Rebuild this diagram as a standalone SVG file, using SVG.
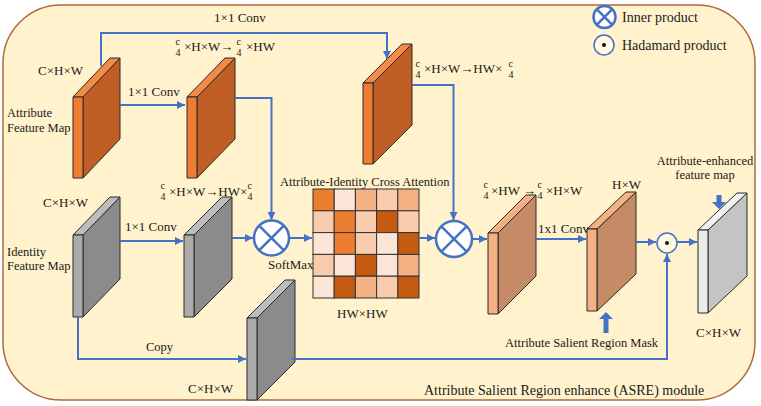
<svg xmlns="http://www.w3.org/2000/svg" width="761" height="406" viewBox="0 0 761 406">
<style>
text{font-family:"Liberation Serif","Times New Roman",serif;font-size:13px;fill:#1a1a1a}
.big{font-size:14px}
.sm{font-size:12.5px}
.fr{font-size:10px}
.ed{stroke:#2b2b2b;stroke-width:1;stroke-linejoin:round}
.af{fill:#EE7D32}.at{fill:#F28B45}.as{fill:#BF5F26}
.gf{fill:#ABABAB}.gt{fill:#BDBDBD}.gs{fill:#8C8B8B}
.pf{fill:#F4B183}.pt{fill:#F4B183}.ps{fill:#C48B66}
.wf{fill:#EBEBEB}.wt{fill:#F2F2F2}.ws{fill:#C4C4C4}
.ln{fill:none;stroke:#4472C4;stroke-width:2}
.ip{fill:#fff;stroke:#4472C4;stroke-width:2.5}
.hp{fill:#FFF7E0;stroke:#4472C4;stroke-width:1.5}
.c1{fill:#ED7D31}.c2{fill:#C55A11}.c3{fill:#F4B183}.c4{fill:#F8CBAD}.c5{fill:#FBE5D6}
.cell{stroke:#333;stroke-width:1}
</style>
<defs>
<marker id="ah" viewBox="0 0 10 10" refX="10" refY="5" markerWidth="8" markerHeight="8" markerUnits="userSpaceOnUse" orient="auto">
<path d="M0,0 L10,5 L0,10 z" fill="#4472C4"/>
</marker>
</defs>

<rect id="panel" x="3" y="5" width="752" height="395" rx="58" ry="58" fill="#FFF2CC" stroke="#B06A3C" stroke-width="1.5"/>

<g id="attr1">
<polygon class="as ed" points="83,97 120,58 120,139 83,178"/>
<polygon class="at ed" points="73,97 110,58 120,58 83,97"/>
<rect class="af ed" x="73" y="97" width="10" height="81"/>
</g>
<g id="attr2">
<polygon class="as ed" points="197,97 235,58 235,139 197,178"/>
<polygon class="at ed" points="187,97 225,58 235,58 197,97"/>
<rect class="af ed" x="187" y="97" width="10" height="81"/>
</g>
<g id="attr3">
<polygon class="as ed" points="373,83 412,44 412,125 373,164"/>
<polygon class="at ed" points="363,83 402,44 412,44 373,83"/>
<rect class="af ed" x="363" y="83" width="10" height="81"/>
</g>
<g id="id1">
<polygon class="gs ed" points="83,235 120,197 120,279 83,317"/>
<polygon class="gt ed" points="73,235 110,197 120,197 83,235"/>
<rect class="gf ed" x="73" y="235" width="10" height="82"/>
</g>
<g id="id2">
<polygon class="gs ed" points="194,235 232,197 232,279 194,317"/>
<polygon class="gt ed" points="184,235 222,197 232,197 194,235"/>
<rect class="gf ed" x="184" y="235" width="10" height="82"/>
</g>
<g id="copy">
<polygon class="gs ed" points="257,318 295,280 295,362 257,400"/>
<polygon class="gt ed" points="247,318 285,280 295,280 257,318"/>
<rect class="gf ed" x="247" y="318" width="10" height="82"/>
</g>
<g id="peach1">
<polygon class="ps ed" points="498,233 536,195 536,276 498,314"/>
<polygon class="pt ed" points="488,233 526,195 536,195 498,233"/>
<rect class="pf ed" x="488" y="233" width="10" height="81"/>
</g>
<g id="mask">
<polygon class="ps ed" points="597,229 636,192 636,274 597,311"/>
<polygon class="pt ed" points="587,229 626,192 636,192 597,229"/>
<rect class="pf ed" x="587" y="229" width="10" height="82"/>
</g>
<g id="out">
<polygon class="ws ed" points="708,230 747,193 747,276 708,313"/>
<polygon class="wt ed" points="698,230 737,193 747,193 708,230"/>
<rect class="wf ed" x="698" y="230" width="10" height="83"/>
</g>

<g id="matrix">
<rect class="cell c1" x="313" y="189" width="21.2" height="21.8"/>
<rect class="cell c5" x="334.2" y="189" width="21.2" height="21.8"/>
<rect class="cell c3" x="355.4" y="189" width="21.2" height="21.8"/>
<rect class="cell c4" x="376.6" y="189" width="21.2" height="21.8"/>
<rect class="cell c3" x="397.8" y="189" width="21.2" height="21.8"/>
<rect class="cell c4" x="313" y="210.8" width="21.2" height="21.8"/>
<rect class="cell c1" x="334.2" y="210.8" width="21.2" height="21.8"/>
<rect class="cell c4" x="355.4" y="210.8" width="21.2" height="21.8"/>
<rect class="cell c2" x="376.6" y="210.8" width="21.2" height="21.8"/>
<rect class="cell c4" x="397.8" y="210.8" width="21.2" height="21.8"/>
<rect class="cell c5" x="313" y="232.6" width="21.2" height="21.8"/>
<rect class="cell c1" x="334.2" y="232.6" width="21.2" height="21.8"/>
<rect class="cell c4" x="355.4" y="232.6" width="21.2" height="21.8"/>
<rect class="cell c5" x="376.6" y="232.6" width="21.2" height="21.8"/>
<rect class="cell c2" x="397.8" y="232.6" width="21.2" height="21.8"/>
<rect class="cell c4" x="313" y="254.4" width="21.2" height="21.8"/>
<rect class="cell c5" x="334.2" y="254.4" width="21.2" height="21.8"/>
<rect class="cell c2" x="355.4" y="254.4" width="21.2" height="21.8"/>
<rect class="cell c5" x="376.6" y="254.4" width="21.2" height="21.8"/>
<rect class="cell c3" x="397.8" y="254.4" width="21.2" height="21.8"/>
<rect class="cell c5" x="313" y="276.2" width="21.2" height="21.8"/>
<rect class="cell c2" x="334.2" y="276.2" width="21.2" height="21.8"/>
<rect class="cell c3" x="355.4" y="276.2" width="21.2" height="21.8"/>
<rect class="cell c4" x="376.6" y="276.2" width="21.2" height="21.8"/>
<rect class="cell c2" x="397.8" y="276.2" width="21.2" height="21.8"/>
</g>

<g id="connectors">
<polyline class="ln" points="101,66 101,33 387,33 387,59" marker-end="url(#ah)"/>
<line class="ln" x1="120" y1="105" x2="185" y2="105" marker-end="url(#ah)"/>
<polyline class="ln" points="235,98 271.5,98 271.5,220" marker-end="url(#ah)"/>
<line class="ln" x1="120" y1="241" x2="183" y2="241" marker-end="url(#ah)"/>
<line class="ln" x1="232" y1="238" x2="253" y2="238" marker-end="url(#ah)"/>
<line class="ln" x1="289" y1="238" x2="312" y2="238" marker-end="url(#ah)"/>
<line class="ln" x1="419" y1="238" x2="435" y2="238" marker-end="url(#ah)"/>
<polyline class="ln" points="412,85 453.5,85 453.5,220" marker-end="url(#ah)"/>
<line class="ln" x1="472" y1="239" x2="487" y2="239" marker-end="url(#ah)"/>
<line class="ln" x1="536" y1="239" x2="586" y2="239" marker-end="url(#ah)"/>
<line class="ln" x1="636" y1="242" x2="656" y2="242" marker-end="url(#ah)"/>
<line class="ln" x1="677" y1="242" x2="697" y2="242" marker-end="url(#ah)"/>
<polyline class="ln" points="78,317 78,359 246,359" marker-end="url(#ah)"/>
<polyline class="ln" points="292,359 667,359 667,254" marker-end="url(#ah)"/>
<path d="M603.5,333 L603.5,319 L599,319 L606,312 L613,319 L608.5,319 L608.5,333 z" fill="#4472C4"/>
<path d="M716.5,195 L716.5,202 L712,202 L719,209 L726,202 L721.5,202 L721.5,195 z" fill="#4472C4"/>
</g>

<g id="inner1">
<circle class="ip" cx="271.5" cy="238" r="17.5"/>
<path d="M259.1,225.6 L283.9,250.4 M283.9,225.6 L259.1,250.4" stroke="#4472C4" stroke-width="2.5"/>
</g>
<g id="inner2">
<circle class="ip" cx="454" cy="239" r="18"/>
<path d="M441.3,226.3 L466.7,251.7 M466.7,226.3 L441.3,251.7" stroke="#4472C4" stroke-width="2.5"/>
</g>
<g id="hadamard">
<circle class="hp" cx="667" cy="243" r="10"/>
<circle cx="667" cy="243" r="2" fill="#111"/>
</g>

<g id="legend">
<circle class="ip" cx="604.5" cy="17" r="11"/>
<path d="M596.7,9.2 L612.3,24.8 M612.3,9.2 L596.7,24.8" stroke="#4472C4" stroke-width="2.5"/>
<text class="big" x="622" y="22">Inner product</text>
<circle class="hp" cx="604" cy="45" r="10"/>
<circle cx="604" cy="45" r="2" fill="#111"/>
<text class="big" x="622" y="50">Hadamard product</text>
</g>

<g id="labels">
<text x="240" y="22" text-anchor="middle">1×1 Conv</text>
<text x="38" y="75">C×H×W</text>
<text class="sm" x="7" y="117">Attribute</text>
<text class="sm" x="7" y="132">Feature Map</text>
<text x="128" y="96">1×1 Conv</text>

<text class="fr" x="175.5" y="45">c</text><text class="fr" x="175.5" y="56">4</text>
<text x="184" y="51">×H×W→</text>
<text class="fr" x="236.5" y="45">c</text><text class="fr" x="236.5" y="56">4</text>
<text x="246" y="51">×HW</text>

<text class="fr" x="415.5" y="67">c</text><text class="fr" x="415.5" y="78">4</text>
<text x="424" y="73">×H×W→HW×</text>
<text class="fr" x="508.5" y="67">c</text><text class="fr" x="508.5" y="78">4</text>

<text class="fr" x="160.5" y="189">c</text><text class="fr" x="160.5" y="200">4</text>
<text x="169" y="196">×H×W→HW×</text>
<text class="fr" x="247.5" y="189">c</text><text class="fr" x="247.5" y="200">4</text>

<text class="sm" x="280" y="186">Attribute-Identity Cross Attention</text>
<text x="43" y="207">C×H×W</text>
<text class="sm" x="7" y="256">Identity</text>
<text class="sm" x="7" y="270">Feature Map</text>
<text x="125" y="231">1×1 Conv</text>
<text x="268" y="269">SoftMax</text>
<text x="337" y="318">HW×HW</text>
<text class="sm" x="146" y="351">Copy</text>
<text x="188" y="393">C×H×W</text>

<text class="fr" x="483.5" y="188">c</text><text class="fr" x="483.5" y="199">4</text>
<text x="491" y="195">×HW →</text>
<text class="fr" x="537.5" y="188">c</text><text class="fr" x="537.5" y="199">4</text>
<text x="546" y="195">×H×W</text>

<text x="612" y="189">H×W</text>
<text class="sm" x="705" y="165" text-anchor="middle">Attribute-enhanced</text>
<text class="sm" x="705" y="179" text-anchor="middle">feature map</text>
<text x="538" y="233">1x1 Conv</text>
<text class="sm" x="505" y="347">Attribute Salient Region Mask</text>
<text x="696" y="337">C×H×W</text>
<text class="big" x="424" y="395">Attribute Salient Region enhance (ASRE) module</text>
</g>
</svg>
